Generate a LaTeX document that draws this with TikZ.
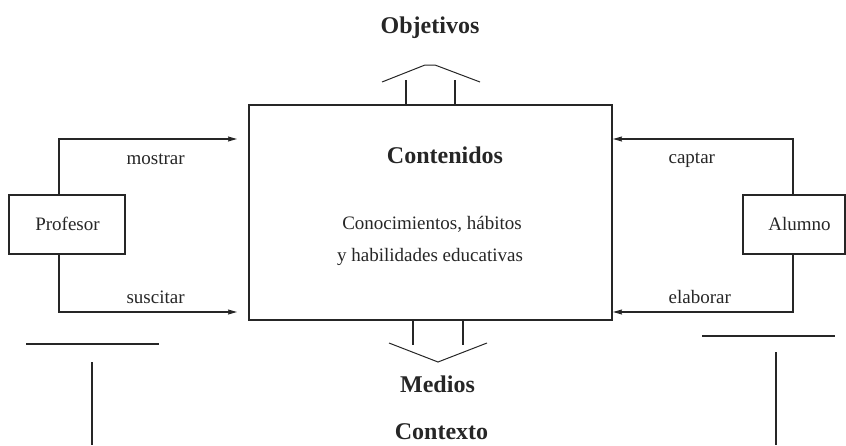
\documentclass[tikz,border=0pt]{standalone}
\usepackage{fontspec}
\setmainfont{Liberation Serif}
\usetikzlibrary{arrows.meta, positioning}
\tikzset{
	box/.style={draw, line width=1.2pt, inner sep=0pt}
}
\tikzset{
	smalltext/.style={font=\fontsize{19}{21}\selectfont, inner sep=0pt}
}
\tikzset{
	bigtext/.style={font=\fontsize{24}{26}\selectfont\bfseries, inner sep=0pt}
}
\tikzset{
	flow/.style={line width=1.2pt, -{Stealth[length=9pt,width=5pt,inset=1pt]}}
}

\begin{document}
\begin{tikzpicture}[x=1pt, y=-1pt, line width=1.2pt, black!85]
      \useasboundingbox (0,0) rectangle (846,445);
      % boxes
      \node[box, minimum width=363pt, minimum height=215pt] (cont) at (430.5,212.5) {};
      \node[box, minimum width=116pt, minimum height=59pt] (prof) at (67,224.5) {};
      \node[box, minimum width=102pt, minimum height=59pt] (alum) at (794,224.5) {};
      \node[smalltext, anchor=base] (proftext) at (67.5,230) {Profesor};
      \node[smalltext, anchor=base] (alumtext) at (799.5,230) {Alumno};
      % texts
      \node[bigtext, anchor=base] (obj) at (430,33) {Objetivos};
      \node[bigtext, anchor=base] (conttitle) at (445,163) {Contenidos};
      \node[smalltext, anchor=base] (conoc) at (432,229) {Conocimientos, hábitos};
      \node[smalltext, anchor=base] (habil) at (430,261) {y habilidades educativas};
      \node[bigtext, anchor=base] (medios) at (437.5,392) {Medios};
      \node[bigtext, anchor=base] (contexto) at (441.5,439) {Contexto};
      % connectors
      \coordinate (mostrartip) at (237,139);
      \coordinate (suscitartip) at (237,312);
      \coordinate (captartip) at (613,139);
      \coordinate (elaborartip) at (613,312);
      \draw[flow] ([xshift=-8pt]prof.north) |- (mostrartip);
      \draw[flow] ([xshift=-8pt]prof.south) |- (suscitartip);
      \draw[flow] ([xshift=-1pt]alum.north) |- (captartip);
      \draw[flow] ([xshift=-1pt]alum.south) |- (elaborartip);
      \node[smalltext, anchor=base west] (mostrar) at (126,164) {mostrar};
      \node[smalltext, anchor=base west] (suscitar) at (126,303) {suscitar};
      \node[smalltext, anchor=base west] (captar) at (668,163) {captar};
      \node[smalltext, anchor=base west] (elaborar) at (668,303) {elaborar};
      % hollow arrows
      \draw (406,105) -- (406,80) (455,105) -- (455,80);
      \draw[line width=1pt] (382,82) -- (425,65) -- (435,65) -- (480,82);
      \draw (413,320) -- (413,345) (463,320) -- (463,345);
      \draw[line width=1pt] (389,343) -- (438,362) -- (487,343);
      % lines below
      \draw (26,344) -- (159,344);
      \draw (92,362) -- (92,445);
      \draw (702,336) -- (835,336);
      \draw (776,352) -- (776,445);
    \end{tikzpicture}
\end{document}
